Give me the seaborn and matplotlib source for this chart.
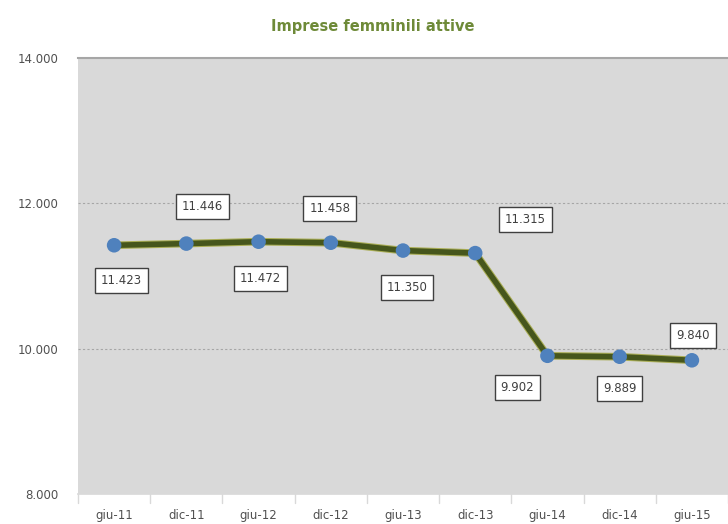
import matplotlib
matplotlib.use("Agg")
import matplotlib.pyplot as plt
import matplotlib.patheffects as pe
import seaborn as sns
import pandas as pd

periods = ["giu-11", "dic-11", "giu-12", "dic-12", "giu-13", "dic-13", "giu-14", "dic-14", "giu-15"]
imprese = [11423, 11446, 11472, 11458, 11350, 11315, 9902, 9889, 9840]
# label placement (pixel offsets from each point)
label_dx = [7, 16, 2, -1, 4, 50, -30, 0, 1]
label_dy = [-35, 37, -37, 34, -37, 34, -32, -32, 25]
y_ticks = [8000, 10000, 12000, 14000]

sns.set_theme(style="white")
plt.rcParams["font.family"] = ["DejaVu Sans"]

df = pd.DataFrame({"periodo": periods, "imprese": imprese})
df["pos"] = range(len(periods))

fig = plt.figure(figsize=(7.28, 5.24), dpi=100)
ax = fig.add_axes([78 / 728, 30 / 524, 650 / 728, 436 / 524])
ax.set_facecolor("#d9d9d9")

# trend line with a light olive halo
sns.lineplot(data=df, x="pos", y="imprese", ax=ax, color="#46561c", linewidth=4,
             path_effects=[pe.Stroke(linewidth=5.5, foreground="#a9ad55"), pe.Normal()])
# data points
sns.scatterplot(data=df, x="pos", y="imprese", ax=ax, color="#4f81bd", s=110,
                edgecolor="none", zorder=5)

for i, v in enumerate(imprese):
    txt = f"{v:,}".replace(",", ".")
    ax.annotate(txt, (i, v), xytext=(label_dx[i], label_dy[i]), textcoords="offset pixels",
                ha="center", va="center", fontsize=8.5, color="#404040",
                bbox=dict(boxstyle="square,pad=0.5", fc="white", ec="#404040", lw=1.0),
                zorder=6)

ax.set_xlim(-0.5, len(periods) - 0.5)
ax.set_ylim(8000, 14000)
ax.set_yticks(y_ticks)
ax.set_yticklabels([f"{t:,}".replace(",", ".") for t in y_ticks], fontsize=8.5, color="#505050")
ax.set_xticks(range(len(periods)))
ax.set_xticklabels(periods, fontsize=8.5, color="#505050")
ax.tick_params(axis="x", length=0, pad=11)
ax.tick_params(axis="y", length=0, pad=14)

# category separators below the axis
for b in [i - 0.5 for i in range(len(periods) + 1)]:
    ax.plot([b, b], [8000, 7880], color="#d9d9d9", lw=1, clip_on=False)

for g in [10000, 12000]:
    ax.axhline(g, color="#a6a6a6", lw=0.8, ls=(0, (2, 2)), zorder=0)

for s in ["left", "right"]:
    ax.spines[s].set_visible(False)
ax.spines["top"].set_color("#a6a6a6")
ax.spines["top"].set_linewidth(1.5)
ax.spines["bottom"].set_color("#d9d9d9")
ax.set_xlabel("")
ax.set_ylabel("")

fig.text(373 / 728, 1 - 27 / 524, "Imprese femminili attive", ha="center", va="center",
         fontsize=10.5, fontweight="bold", color="#6e8a38")

fig.savefig("out.png", dpi=100)
